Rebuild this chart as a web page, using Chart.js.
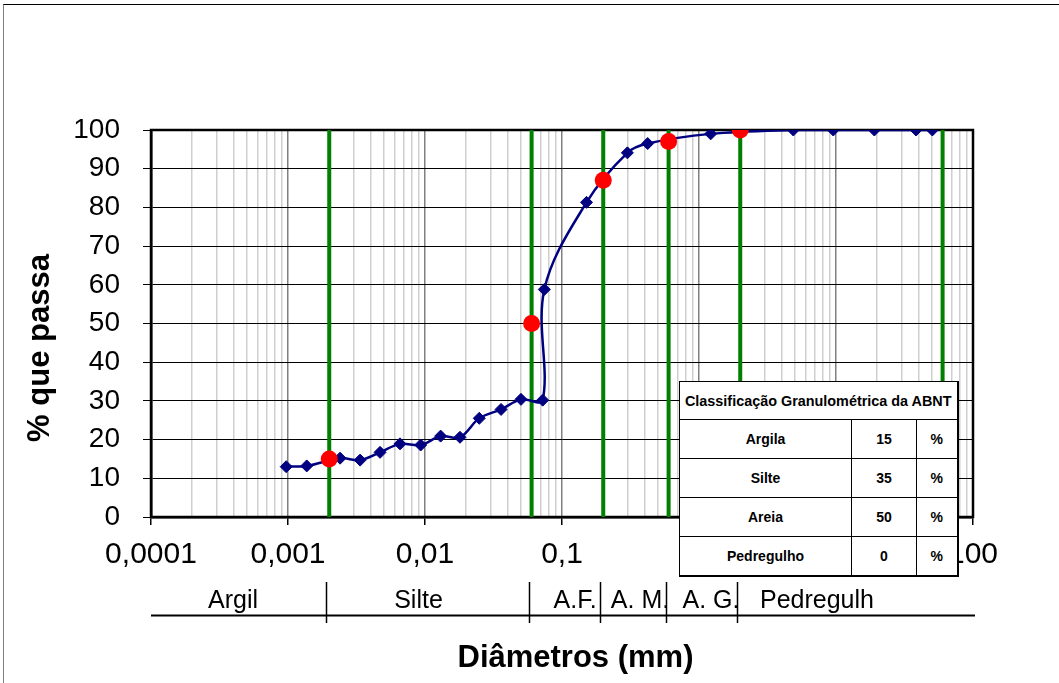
<!DOCTYPE html>
<html lang="pt-BR">
<head>
<meta charset="utf-8">
<title>Curva granulométrica</title>
<script src="https://cdn.jsdelivr.net/npm/chart.js@4.4.0/dist/chart.umd.min.js"></script>
<style>
  html, body { margin: 0; padding: 0; background: #fff; }
  #wrap { position: relative; width: 1059px; height: 683px; overflow: hidden;
          font-family: 'Liberation Sans', Arial, sans-serif; }
  #grafico { position: absolute; left: 0; top: 0; }
  #moldura { position: absolute; left: 3px; top: 4px; width: 1200px; height: 900px;
             border-left: 1px solid #7f7f7f; border-top: 1px solid #000;
             box-sizing: border-box; pointer-events: none; }
  #abnt { position: absolute; left: 679px; top: 381px; width: 278px; height: 196px;
          border-collapse: collapse; table-layout: fixed; background: #fff;
          border-left: 1px solid #000; border-top: 1px solid #000;
          border-right: 2px solid #000; border-bottom: 2px solid #000;
          font-family: 'Liberation Sans', Arial, sans-serif; font-weight: bold; color: #000; }
  #abnt td { border: 1px solid #000; text-align: center; vertical-align: middle;
             padding: 0; font-size: 14px; white-space: nowrap; }
  #abnt td.titulo { font-size: 14.4px; height: 37px; }
  #abnt td.linha { height: 38px; }
</style>
</head>
<body>
<div id="wrap">
  <canvas id="grafico" width="1059" height="683"></canvas>
  <div id="moldura"></div>
  <table id="abnt">
    <colgroup><col style="width:172px"><col style="width:65px"><col style="width:41px"></colgroup>
    <tbody id="abntCorpo"></tbody>
  </table>
</div>
<script>
// Curva granulométrica: diâmetro dos grãos (mm) e porcentagem que passa
const diametros = [50.5, 38.4, 19.05, 9.55, 4.88, 1.217, 0.422, 0.300, 0.151, 0.0743,
                   0.0723, 0.0502, 0.0359, 0.0249, 0.0180, 0.0130, 0.0093, 0.00657,
                   0.0047, 0.00336, 0.0024, 0.00137, 0.00097];
const passante  = [100, 100, 100, 100, 100, 99.0, 96.5, 94.1, 81.3, 58.8,
                   30.2, 30.4, 27.8, 25.5, 20.6, 20.9, 18.6, 18.9,
                   16.7, 14.7, 15.2, 13.2, 13.0];

// Limites das frações (ABNT) e porcentagem que passa em cada limite
const limitesABNT     = [0.002, 0.06, 0.2, 0.6, 2];
const passaNosLimites = [15, 50, 87, 97, 100];
const divisorias      = [0.002, 0.06, 0.2, 0.6, 2, 60];

// Faixas nomeadas abaixo do eixo e o diâmetro (mm) sob o qual cada nome fica
const faixas        = ['Argil', 'Silte', 'A.F.', 'A. M.', 'A. G.', 'Pedregulh'];
const centrosFaixas = [0.000397, 0.00896, 0.1245, 0.371, 1.224, 7.26];

// Quadro de classificação
const fracoes      = ['Argila', 'Silte', 'Areia', 'Pedregulho'];
const porcentagens = [15, 35, 50, 0];

// Rótulos do eixo dos diâmetros (décadas)
const decadasX  = [0.0001, 0.001, 0.01, 0.1, 1, 10, 100];
const rotulosX  = ['0,0001', '0,001', '0,01', '0,1', '1', '10', '100'];

// Quadro em HTML
(function montarQuadro() {
  const corpo = document.getElementById('abntCorpo');
  let html = '<tr><td class="titulo" colspan="3">Classificação Granulométrica da ABNT</td></tr>';
  fracoes.forEach((f, i) => {
    html += '<tr><td class="linha">' + f + '</td><td class="linha">' + porcentagens[i] +
            '</td><td class="linha">%</td></tr>';
  });
  corpo.innerHTML = html;
})();

const FONTE = "'Liberation Sans', Arial, sans-serif";
Chart.defaults.font.family = FONTE;
Chart.defaults.color = '#000';

// Linhas de grade logarítmicas: 1..9 x 10^n
const gradeX = [];
for (let e = -4; e <= 2; e++) {
  for (let m = 1; m <= 9; m++) {
    if (e === 2 && m > 1) break;
    gradeX.push(m * Math.pow(10, e));
  }
}
const ehDecada = (c) => !c.tick || Math.abs(Math.log10(c.tick.value) - Math.round(Math.log10(c.tick.value))) < 1e-9;

// Moldura da área de plotagem
const moldura = {
  id: 'moldura',
  beforeDatasetsDraw(chart) {
    const { ctx, chartArea: a } = chart;
    ctx.save();
    ctx.strokeStyle = '#000';
    ctx.lineWidth = 2.5;
    ctx.strokeRect(a.left, a.top, a.right - a.left, a.bottom - a.top);
    ctx.restore();
  }
};

// Faixas granulométricas sob o eixo e títulos dos eixos
const anotacoes = {
  id: 'anotacoes',
  afterDraw(chart) {
    const { ctx, chartArea: a } = chart;
    const sx = chart.scales.x;
    ctx.save();
    ctx.strokeStyle = '#000';
    ctx.fillStyle = '#000';
    // linha horizontal das faixas
    ctx.lineWidth = 2;
    ctx.beginPath();
    ctx.moveTo(a.left, 615.5);
    ctx.lineTo(a.right + 2, 615.5);
    ctx.stroke();
    // divisórias verticais
    ctx.lineWidth = 1.5;
    limitesABNT.forEach(d => {
      const px = Math.round(sx.getPixelForValue(d)) - 2.5;
      ctx.beginPath();
      ctx.moveTo(px, 582);
      ctx.lineTo(px, 623);
      ctx.stroke();
    });
    // nomes das faixas
    ctx.font = '25px ' + FONTE;
    ctx.textAlign = 'center';
    ctx.textBaseline = 'alphabetic';
    faixas.forEach((t, i) => {
      ctx.fillText(t, sx.getPixelForValue(centrosFaixas[i]), 608);
    });
    // título do eixo x
    ctx.font = 'bold 31px ' + FONTE;
    ctx.fillText('Diâmetros (mm)', 575.5, 667);
    // título do eixo y
    ctx.translate(40, 348);
    ctx.rotate(-Math.PI / 2);
    ctx.textBaseline = 'middle';
    ctx.fillText('% que passa', 0, 0);
    ctx.restore();
  }
};

new Chart(document.getElementById('grafico'), {
  type: 'scatter',
  data: {
    datasets: [
      {
        label: 'Limites ABNT',
        data: limitesABNT.map((d, i) => ({ x: d, y: passaNosLimites[i] })),
        pointStyle: 'circle',
        pointRadius: 8.5,
        pointBackgroundColor: '#ff0000',
        pointBorderColor: '#ff0000',
        pointBorderWidth: 0,
        showLine: false,
        order: 0
      },
      {
        label: 'Curva granulométrica',
        data: diametros.map((d, i) => ({ x: d, y: passante[i] })),
        showLine: true,
        tension: 0.35,
        borderColor: '#000080',
        borderWidth: 2.5,
        pointStyle: 'rectRot',
        pointRadius: 6,
        pointBackgroundColor: '#000080',
        pointBorderColor: '#000080',
        pointBorderWidth: 1,
        order: 1
      },
      ...divisorias.map(d => ({
        label: 'Divisória ' + d,
        data: [{ x: d, y: 0 }, { x: d, y: 100 }],
        showLine: true,
        borderColor: '#008000',
        borderWidth: 4,
        pointRadius: 0,
        order: 2
      }))
    ]
  },
  options: {
    responsive: false,
    animation: false,
    devicePixelRatio: 1,
    events: [],
    layout: { padding: { left: 0, top: 130, right: 86, bottom: 0 } },
    plugins: { legend: { display: false }, tooltip: { enabled: false } },
    scales: {
      x: {
        type: 'logarithmic',
        position: 'bottom',
        min: 0.0001,
        max: 100,
        afterBuildTicks(scale) { scale.ticks = gradeX.map(v => ({ value: v })); },
        afterFit(scale) { scale.height = 166; },
        ticks: {
          autoSkip: false,
          maxRotation: 0,
          minRotation: 0,
          padding: 12,
          color: '#000',
          font: { size: 30 },
          callback(value) {
            const i = decadasX.findIndex(d => Math.abs(d - value) / d < 1e-6);
            return i >= 0 ? rotulosX[i] : '';
          }
        },
        grid: {
          color: c => ehDecada(c) ? '#808080' : '#cfcfcf',
          lineWidth: 1.5,
          tickLength: 8,
          tickWidth: 1.5,
          tickColor: c => ehDecada(c) ? '#000' : 'rgba(0,0,0,0)'
        },
        border: { display: true, color: '#000', width: 2.5 }
      },
      y: {
        min: 0,
        max: 100,
        afterFit(scale) { scale.width = 151; },
        ticks: { stepSize: 10, padding: 23, color: '#000', font: { size: 28 } },
        grid: { color: '#000', lineWidth: 1, tickLength: 8, tickColor: '#000', tickWidth: 1 },
        border: { display: true, color: '#000', width: 2.5 }
      }
    }
  },
  plugins: [moldura, anotacoes]
});
</script>
</body>
</html>
